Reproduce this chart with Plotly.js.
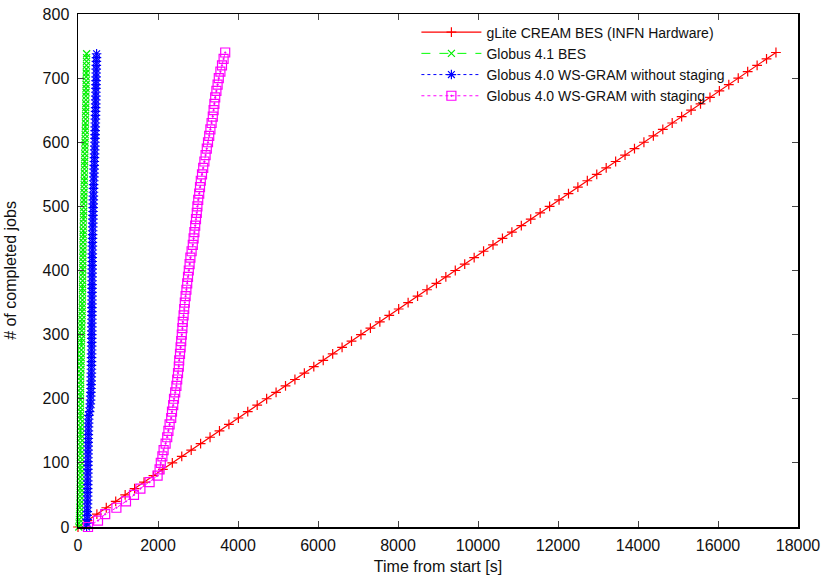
<!DOCTYPE html>
<html>
<head>
<meta charset="utf-8">
<script src="https://cdn.plot.ly/plotly-3.0.1.min.js"></script>
<style>html,body{margin:0;padding:0;background:#fff;}#chart{width:825px;height:577px;}</style>
</head>
<body>
<div id="chart"></div>
<script>
// Series names
const seriesNames = [
  "gLite CREAM BES (INFN Hardware)",
  "Globus 4.1 BES",
  "Globus 4.0 WS-GRAM without staging",
  "Globus 4.0 WS-GRAM with staging"
];

// Completed-job counts sampled every 10 jobs (red, magenta)
const jobsSlow = [0,10,20,30,40,50,60,70,80,90,
  100,110,120,130,140,150,160,170,180,190,
  200,210,220,230,240,250,260,270,280,290,
  300,310,320,330,340,350,360,370,380,390,
  400,410,420,430,440,450,460,470,480,490,
  500,510,520,530,540,550,560,570,580,590,
  600,610,620,630,640,650,660,670,680,690,
  700,710,720,730,740];

// Completed-job counts sampled every 6 jobs (green, blue)
const jobsFast = [0,6,12,18,24,30,36,42,48,54,
  60,66,72,78,84,90,96,102,108,114,
  120,126,132,138,144,150,156,162,168,174,
  180,186,192,198,204,210,216,222,228,234,
  240,246,252,258,264,270,276,282,288,294,
  300,306,312,318,324,330,336,342,348,354,
  360,366,372,378,384,390,396,402,408,414,
  420,426,432,438,444,450,456,462,468,474,
  480,486,492,498,504,510,516,522,528,534,
  540,546,552,558,564,570,576,582,588,594,
  600,606,612,618,624,630,636,642,648,654,
  660,666,672,678,684,690,696,702,708,714,
  720,726,732,738];

// Time from start [s]
const timeCream = [0,236,472,707,943,1179,1415,1651,1886,2122,
  2358,2594,2830,3065,3301,3537,3773,4009,4244,4480,
  4716,4952,5188,5423,5659,5895,6131,6367,6602,6838,
  7074,7310,7546,7781,8017,8253,8489,8725,8960,9196,
  9432,9668,9904,10139,10375,10611,10847,11083,11318,11554,
  11790,12026,12262,12497,12733,12969,13205,13441,13676,13912,
  14148,14384,14620,14855,15091,15327,15563,15799,16034,16270,
  16506,16742,16978,17213,17449];

const timeBes41 = [20,28,34,38,42,45,48,50,52,53,
  54,55,55,56,56,57,57,58,58,58,
  58,59,59,59,60,60,60,61,61,61,
  62,62,63,63,64,64,65,66,67,69,
  72,74,76,78,80,82,84,86,88,90,
  92,94,96,98,100,102,104,106,108,110,
  112,113,114,115,116,117,118,120,121,122,
  123,124,125,126,127,128,129,130,132,134,
  136,138,140,142,144,146,148,150,152,154,
  156,158,160,162,164,166,168,170,172,174,
  176,178,180,182,184,186,188,190,192,194,
  196,197,198,200,201,202,204,205,206,208,
  210,212,214,216];

const timeGramNoStage = [215,222,227,230,233,235,237,239,240,241,
  242,243,244,245,246,247,248,249,250,251,
  252,254,255,257,258,260,262,264,267,272,
  290,300,308,314,318,322,325,328,330,332,
  334,336,337,338,339,340,341,342,343,344,
  345,345,346,346,347,347,348,348,349,350,
  350,351,351,352,352,353,353,354,354,355,
  356,357,358,359,360,362,364,366,368,370,
  372,374,376,378,380,382,384,386,388,390,
  393,396,399,402,405,408,411,414,417,420,
  423,425,427,429,431,433,435,437,439,441,
  443,444,446,447,449,450,452,453,455,456,
  458,460,462,465];

const timeGramStage = [250,500,680,960,1200,1400,1560,1790,1990,2040,
  2070,2110,2140,2190,2230,2260,2290,2330,2350,2380,
  2400,2430,2460,2480,2500,2520,2530,2550,2565,2580,
  2595,2610,2620,2640,2655,2670,2690,2710,2730,2750,
  2770,2790,2810,2840,2870,2890,2910,2930,2950,2970,
  2985,3005,3030,3050,3070,3100,3130,3160,3190,3220,
  3250,3280,3310,3340,3370,3390,3410,3430,3460,3490,
  3520,3560,3600,3640,3680];

const xTicks = [0,2000,4000,6000,8000,10000,12000,14000,16000,18000];
const yTicks = [0,100,200,300,400,500,600,700,800];

const traces = [
  {x: timeCream, y: jobsSlow, name: seriesNames[0], type: "scatter", mode: "lines+markers",
   line: {color: "#ff0000", width: 1.2, dash: "solid"},
   marker: {symbol: "cross-thin-open", size: 7, color: "#ff0000", line: {color: "#ff0000", width: 1.2}},
   cliponaxis: false},
  {x: timeBes41, y: jobsFast, name: seriesNames[1], type: "scatter", mode: "lines+markers",
   line: {color: "#00ff00", width: 1, dash: "dash"},
   marker: {symbol: "x-thin-open", size: 7, color: "#00ee00", line: {color: "#00ee00", width: 1.2}},
   cliponaxis: false},
  {x: timeGramNoStage, y: jobsFast, name: seriesNames[2], type: "scatter", mode: "lines+markers",
   line: {color: "#0000ff", width: 1, dash: "dot"},
   marker: {symbol: "asterisk-open", size: 8, color: "#0000ff", line: {color: "#0000ff", width: 1.2}},
   cliponaxis: false},
  {x: timeGramStage, y: jobsSlow, name: seriesNames[3], type: "scatter", mode: "lines+markers",
   line: {color: "#ff00ff", width: 1, dash: "dot"},
   marker: {symbol: "square-open-dot", size: 9, color: "#ff00ff", line: {color: "#ff00ff", width: 1.2}},
   cliponaxis: false}
];

const tickFont = {family: "Liberation Sans, Arial, sans-serif", size: 16, color: "#111"};
const legendFont = {family: "Liberation Sans, Arial, sans-serif", size: 14, color: "#111"};

const layout = {
  width: 825, height: 577,
  margin: {l: 78, r: 27, t: 14, b: 50},
  paper_bgcolor: "#fff", plot_bgcolor: "#fff",
  font: tickFont,
  showlegend: true,
  legend: {x: 0.47, y: 0.995, xanchor: "left", yanchor: "top",
           bgcolor: "rgba(255,255,255,0)", font: legendFont,
           itemwidth: 60, tracegroupgap: 0},
  xaxis: {range: [0, 18000], tickvals: xTicks, ticktext: xTicks.map(String),
          showgrid: false, zeroline: false, showline: true, linecolor: "#000", linewidth: 1.5,
          mirror: "ticks", ticks: "inside", ticklen: 6, tickcolor: "#444", tickwidth: 1,
          tickfont: tickFont, automargin: false, ticklabelstandoff: 3,
          title: {text: "Time from start [s]", font: tickFont, standoff: 8}},
  yaxis: {range: [0, 800], tickvals: yTicks, ticktext: yTicks.map(String),
          showgrid: false, zeroline: false, showline: true, linecolor: "#000", linewidth: 1.5,
          mirror: "ticks", ticks: "inside", ticklen: 6, tickcolor: "#444", tickwidth: 1,
          tickfont: tickFont, automargin: false, ticklabelstandoff: 4,
          title: {text: "# of completed jobs", font: tickFont, standoff: 22}}
};

Plotly.newPlot("chart", traces, layout, {displayModeBar: false, staticPlot: true});
</script>
</body>
</html>
